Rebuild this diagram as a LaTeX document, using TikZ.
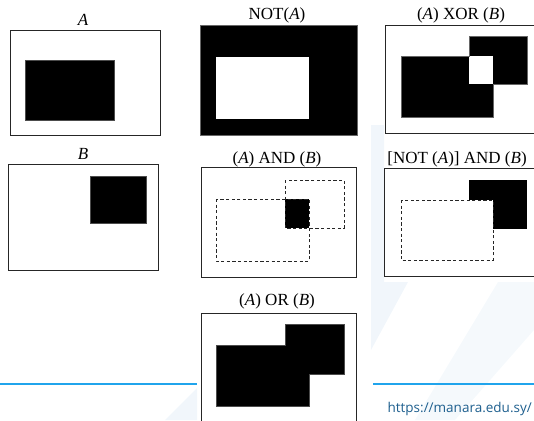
\documentclass[tikz,border=0pt]{standalone}
\usepackage{fontspec}
\setmainfont{Liberation Serif}
\newfontfamily\urlfont{Open Sans}
\definecolor{rulecyan}{HTML}{20A4EC}
\definecolor{urlblue}{HTML}{1E5F8E}
\definecolor{wash}{HTML}{F1F6FB}
\tikzset{
  frame/.style={draw=black!85, line width=0.8pt, fill=white},
  solid region/.style={fill=black, draw=black!70, line width=0.4pt},
  dashed region/.style={draw=black!85, line width=0.8pt, dash pattern=on 3.2pt off 2.4pt},
  caption/.style={font=\fontsize{17}{19}\selectfont, inner sep=0pt, anchor=base},
}
\begin{document}
\begin{tikzpicture}[x=1pt, y=-1pt]
\useasboundingbox (0,0) rectangle (534,420);
\clip (0,0) rectangle (534,420);

% faint background wash
\fill[wash] (371,125) -- (384,125) -- (384,282) -- (408,282) -- (371,350) -- cycle;
\fill[wash] (165,420) -- (197,388) -- (197,420) -- cycle;
\fill[wash!70] (498,282) -- (534,282) -- (534,330) -- (455,420) -- (415,420) -- cycle;

% footer rules and address
\draw[rulecyan, line width=2pt] (0,384) -- (197,384);
\draw[rulecyan, line width=2pt] (373,384) -- (534,384);
\node[font=\urlfont\fontsize{13.5}{15}\selectfont, text=urlblue, anchor=base east, inner sep=0pt] (url) at (532,412) {https://manara.edu.sy/};

% A
\node[caption] (capA) at (83,26) {\textit{A}};
\draw[frame] (10,30) rectangle (160,135);
\draw[solid region] (25,60) rectangle (114,120);

% B
\node[caption] (capB) at (83,159) {\textit{B}};
\draw[frame] (8,164) rectangle (158,270);
\draw[solid region] (90,176) rectangle (146,223);

% NOT(A)
\node[caption] (capNot) at (277,20) {NOT(\textit{A})};
\draw[fill=black, draw=black!60, line width=0.4pt] (200,25) rectangle (357,135);
\fill[white] (216,57) rectangle (309,119);

% (A) XOR (B)
\node[caption] (capXor) at (461,20) {(\textit{A}) XOR (\textit{B})};
\draw[frame] (385,25) rectangle (540,133);
\fill[black] (401,56) rectangle (493,117);
\fill[black] (469,36) rectangle (527,84);
\fill[white] (469,56) rectangle (493,84);
\draw[black!60, line width=0.4pt] (401,56) -- (469,56) -- (469,36) -- (527,36) -- (527,84)
  -- (493,84) -- (493,117) -- (401,117) -- cycle;

% (A) AND (B)
\node[caption] (capAnd) at (277,163) {(\textit{A}) AND (\textit{B})};
\draw[frame] (201,167) rectangle (356,277);
\fill[black] (285,199) rectangle (309,228);
\draw[dashed region] (216,199) rectangle (309,261);
\draw[dashed region] (285,180) rectangle (344,228);

% [NOT (A)] AND (B)
\node[caption] (capNotAnd) at (457,163) {[NOT (\textit{A})] AND (\textit{B})};
\draw[frame] (384,168) rectangle (540,276);
\fill[black] (469,180) rectangle (527,229);
\fill[white] (401,200) rectangle (493,260);
\draw[dashed region] (401,200) rectangle (493,260);

% (A) OR (B)
\node[caption] (capOr) at (277,305) {(\textit{A}) OR (\textit{B})};
\draw[frame] (201,313) rectangle (356,430);
\draw[solid region] (216,345) -- (285,345) -- (285,324) -- (344,324) -- (344,374)
  -- (309,374) -- (309,406) -- (216,406) -- cycle;
\end{tikzpicture}
\end{document}
